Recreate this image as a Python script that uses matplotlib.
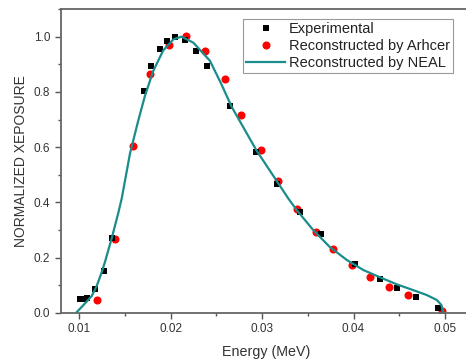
import matplotlib
matplotlib.use("Agg")
import matplotlib.pyplot as plt
from matplotlib.ticker import MultipleLocator

plt.rcParams['font.family'] = ['Liberation Sans', 'DejaVu Sans']

# ---------------- data ----------------
exp_energy = [0.0101, 0.0105, 0.0109, 0.0117, 0.0127, 0.0136, 0.0171, 0.0179,
              0.0188, 0.0196, 0.0205, 0.0216, 0.0228, 0.0240, 0.0265, 0.0293,
              0.0316, 0.0341, 0.0365, 0.0402, 0.0429, 0.0448, 0.0468, 0.0492]
exp_value = [0.050, 0.052, 0.054, 0.088, 0.153, 0.270, 0.803, 0.893,
             0.956, 0.986, 1.000, 0.988, 0.949, 0.892, 0.748, 0.582,
             0.468, 0.366, 0.285, 0.179, 0.123, 0.089, 0.057, 0.017]

archer_energy = [0.0120, 0.0139, 0.0159, 0.0178, 0.0198, 0.0217, 0.0238, 0.0259,
                 0.0277, 0.0299, 0.0318, 0.0338, 0.0359, 0.0378, 0.0398, 0.0418,
                 0.0439, 0.0459, 0.0497]
archer_value = [0.047, 0.268, 0.603, 0.863, 0.970, 1.002, 0.949, 0.845,
                0.717, 0.591, 0.478, 0.375, 0.294, 0.230, 0.173, 0.129,
                0.093, 0.065, 0.007]

neal_energy = [0.00967, 0.0108, 0.0114, 0.0119, 0.0124, 0.01284, 0.01357, 0.0143,
               0.01467, 0.01557, 0.01648, 0.0172, 0.0181, 0.0192, 0.0203, 0.0212,
               0.0225, 0.0243, 0.0255, 0.0267, 0.0294, 0.0318, 0.0329, 0.0338,
               0.0356, 0.0374, 0.0393, 0.0411, 0.0429, 0.0447, 0.0465, 0.0480,
               0.0491, 0.0496, 0.0498]
neal_value = [0.000, 0.040, 0.062, 0.095, 0.140, 0.185, 0.270, 0.363,
              0.415, 0.577, 0.697, 0.785, 0.875, 0.950, 0.990, 1.000,
              0.978, 0.913, 0.832, 0.745, 0.588, 0.468, 0.413, 0.372,
              0.300, 0.239, 0.191, 0.155, 0.129, 0.104, 0.083, 0.065,
              0.047, 0.029, 0.005]

# ---------------- plot ----------------
fig = plt.figure(figsize=(4.66, 3.6), dpi=100)
ax = fig.add_axes([0.1303, 0.1306, 0.8836, 0.8444])

ax.plot(archer_energy, archer_value, 'o', color='#ff0000', markersize=5.8,
        markeredgewidth=0, label='Reconstructed by Arhcer', zorder=2)
ax.plot(exp_energy, exp_value, 's', color='black', markersize=5,
        markeredgewidth=0, label='Experimental', zorder=3)
ax.plot(neal_energy, neal_value, '-', color='#1a8c8c', linewidth=1.6,
        label='Reconstructed by NEAL', zorder=4)

ax.set_xlim(0.008, 0.053)
ax.set_ylim(0, 1.1)
ax.xaxis.set_major_locator(MultipleLocator(0.01))
ax.xaxis.set_minor_locator(MultipleLocator(0.005))
ax.yaxis.set_major_locator(MultipleLocator(0.2))
ax.yaxis.set_minor_locator(MultipleLocator(0.1))
ax.xaxis.set_major_formatter(plt.FuncFormatter(lambda v, p: '%.2f' % v))
ax.yaxis.set_major_formatter(plt.FuncFormatter(lambda v, p: '%.1f' % v))

for s in ['left', 'bottom', 'top']:
    ax.spines[s].set_color('#666666')
    ax.spines[s].set_linewidth(1.3)
ax.spines['right'].set_visible(False)

ax.tick_params(which='both', direction='out', colors='#555555',
               labelcolor='#333333', labelsize=8.5, top=False, right=False)
ax.tick_params(which='major', length=4, width=1)
ax.tick_params(which='minor', length=2.5, width=1)

ax.set_xlabel('Energy (MeV)', fontsize=10.3, color='#333333', labelpad=7)
ax.set_ylabel('NORMALIZED XEPOSURE', fontsize=10, color='#333333', labelpad=4)

handles, labels = ax.get_legend_handles_labels()
order = [1, 0, 2]
leg = ax.legend([handles[i] for i in order], [labels[i] for i in order],
                loc='upper left', bbox_to_anchor=(0.443, 0.967), borderaxespad=0,
                fontsize=10.5, fancybox=False, framealpha=1, edgecolor='#999999',
                handlelength=2.7, handletextpad=0.25, borderpad=0.2,
                labelspacing=0.2)
leg.get_frame().set_linewidth(0.8)
for t in leg.get_texts():
    t.set_color('#222222')

fig.savefig('out.png', dpi=100)
